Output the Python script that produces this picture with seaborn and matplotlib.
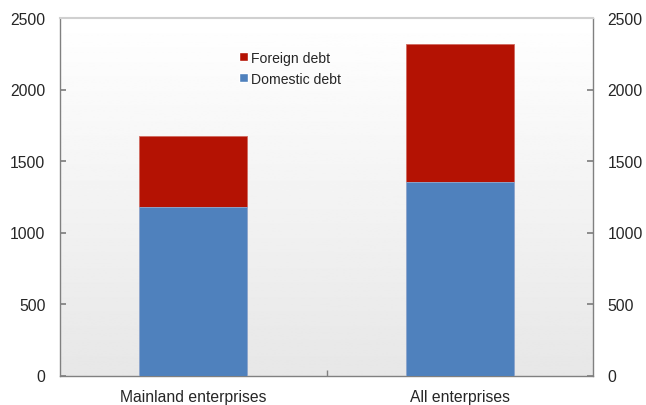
import matplotlib
matplotlib.use("Agg")
import matplotlib.pyplot as plt
import numpy as np
import pandas as pd
import seaborn as sns
from matplotlib.patches import Patch

categories = ["Mainland enterprises", "All enterprises"]
domestic_debt = [1180, 1355]
foreign_debt = [495, 965]
y_ticks = [0, 500, 1000, 1500, 2000, 2500]

blue = "#4f81bd"
red = "#b41203"

sns.set_theme(style="white")
plt.rcParams["font.family"] = ["Liberation Sans", "DejaVu Sans"]

df = pd.DataFrame({
    "category": categories,
    "domestic": domestic_debt,
    "total": np.array(domestic_debt) + np.array(foreign_debt),
})

fig = plt.figure(figsize=(6.46, 4.06), dpi=100)
ax = fig.add_axes([60 / 646, 1 - 376.5 / 406, 533 / 646, 357.5 / 406])

# background gradient, white at top to light gray at bottom
grad = np.linspace(1.0, 0.905, 256).reshape(-1, 1)
ax.imshow(grad, cmap="gray", vmin=0, vmax=1, aspect="auto",
          extent=[-0.5, 1.5, 0, 2500], zorder=0)

sns.barplot(data=df, x="category", y="total", color=red, saturation=1,
            width=0.405, ax=ax, zorder=2, edgecolor="#d06a60", linewidth=0.6)
sns.barplot(data=df, x="category", y="domestic", color=blue, saturation=1,
            width=0.405, ax=ax, zorder=3, edgecolor="#8fb0d8", linewidth=0.6)

ax.set_xlim(-0.5, 1.5)
ax.set_ylim(0, 2500)
ax.set_yticks(y_ticks)
ax.set_xticks([0.5], minor=True)
ax.set_xlabel("")
ax.set_ylabel("")
ax.tick_params(axis="y", direction="in", length=4, color="#808080",
               labelsize=11.3, left=True, right=True, labelright=True, pad=10.5)
ax.tick_params(axis="x", which="major", length=0, labelsize=11.3, pad=9.5)
ax.tick_params(axis="x", which="minor", direction="in", length=4,
               color="#808080", bottom=True)

for side in ["left", "right", "bottom"]:
    ax.spines[side].set_color("#808080")
    ax.spines[side].set_linewidth(1.0)
ax.spines["top"].set_color("#d0d0d0")
ax.spines["top"].set_linewidth(1.5)

handles = [Patch(facecolor=red, label="Foreign debt"),
           Patch(facecolor=blue, label="Domestic debt")]
ax.legend(handles=handles, loc="upper left", bbox_to_anchor=(0.335, 0.909),
          frameon=False, fontsize=10.1, handlelength=0.64, handleheight=0.62,
          handletextpad=0.25, labelspacing=0.5, borderpad=0, borderaxespad=0)

fig.savefig("out.png", dpi=100)
